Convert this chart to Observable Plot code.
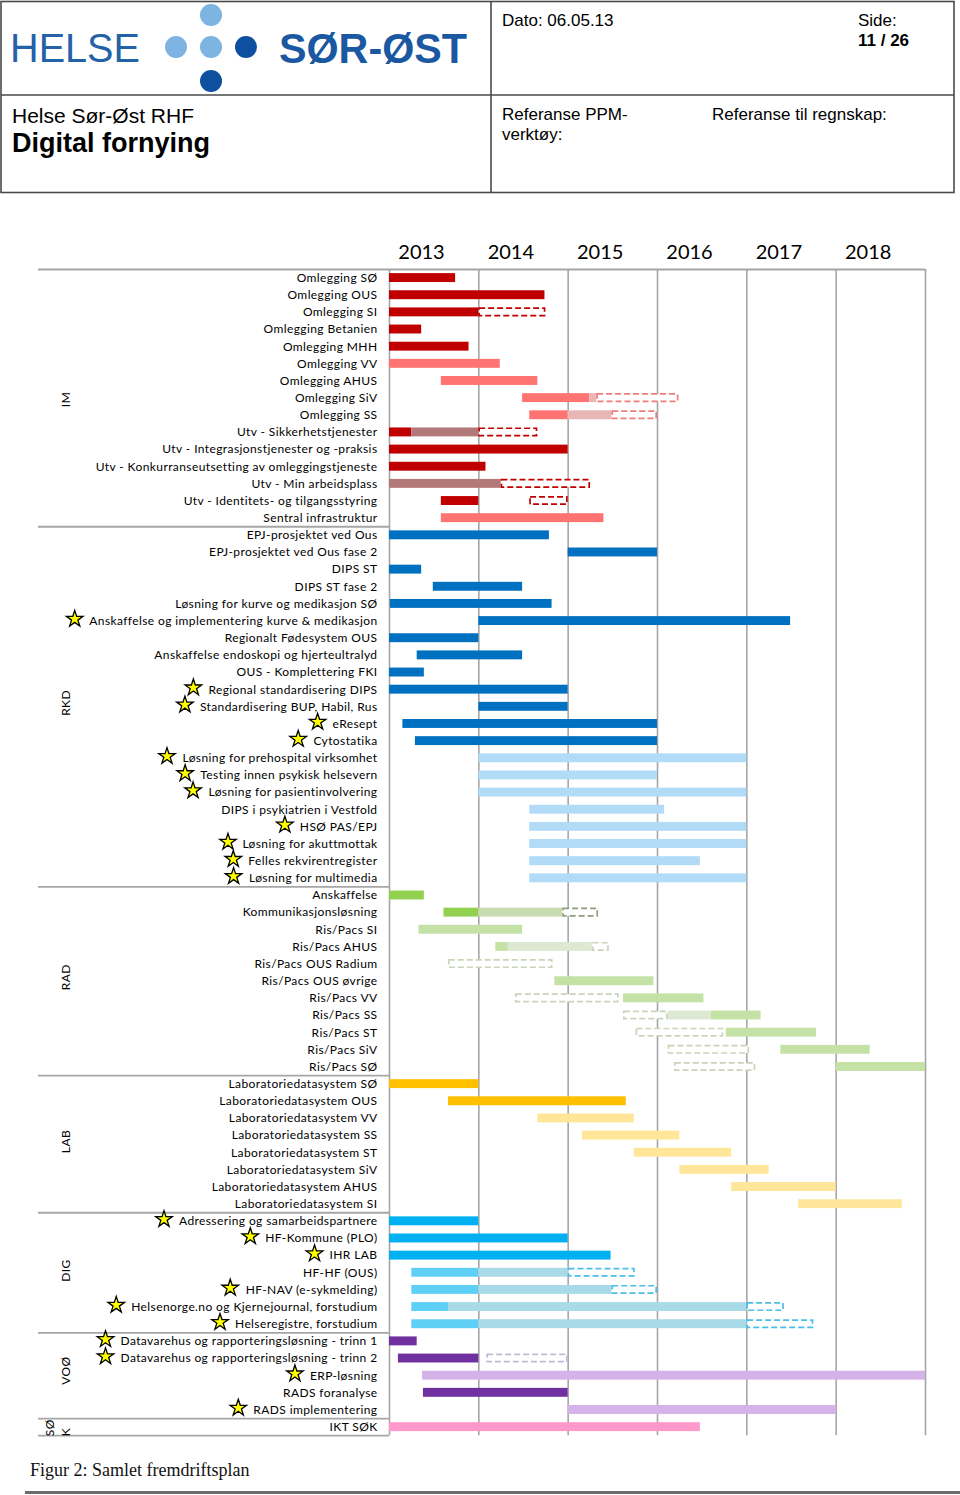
<!DOCTYPE html>
<html>
<head>
<meta charset="utf-8">
<script src="https://cdn.jsdelivr.net/npm/d3@7"></script>
<script src="https://cdn.jsdelivr.net/npm/@observablehq/plot@0.6"></script>
<style>
  html, body { margin: 0; padding: 0; background: #fff; }
  body { width: 960px; height: 1495px; position: relative; overflow: hidden; font-family: "Liberation Sans", Arial, sans-serif; }
  #hdr { position: absolute; left: 0; top: 0; }
  #chart { position: absolute; left: 0; top: 230px; }
  #chart g[aria-label="text"] text { letter-spacing: 0.4px; }
  #caption { position: absolute; left: 30px; top: 1460px; font-family: "Liberation Serif", "Times New Roman", serif; font-size: 18px; color: #111; white-space: nowrap; }
  #rule { position: absolute; left: 25px; top: 1491px; width: 935px; height: 3px; background: #6b6b6b; }
</style>
</head>
<body>
<svg id="hdr" width="960" height="196" font-family="Liberation Sans, Arial, sans-serif">
  <rect x="1" y="1.5" width="953" height="191" fill="none" stroke="#4a4a4a" stroke-width="1.6"/>
  <line x1="1" y1="95" x2="954" y2="95" stroke="#4a4a4a" stroke-width="1.6"/>
  <line x1="491" y1="1.5" x2="491" y2="192.5" stroke="#4a4a4a" stroke-width="1.6"/>
  <text x="10" y="62" font-size="41" fill="#2462a8" textLength="130" lengthAdjust="spacingAndGlyphs">HELSE</text>
  <circle cx="211" cy="15" r="11" fill="#7db4e2"/>
  <circle cx="176" cy="47" r="11" fill="#7db4e2"/>
  <circle cx="211" cy="47" r="11" fill="#7db4e2"/>
  <circle cx="246" cy="47" r="11" fill="#0e4fa0"/>
  <circle cx="211" cy="81" r="11" fill="#0e4fa0"/>
  <text x="279" y="63" font-size="42" font-weight="bold" fill="#1b58a2" textLength="188" lengthAdjust="spacingAndGlyphs">SØR-ØST</text>
  <text x="12" y="123" font-size="21" fill="#000">Helse Sør-Øst RHF</text>
  <text x="12" y="152" font-size="27" font-weight="bold" fill="#000">Digital fornying</text>
  <text x="502" y="26" font-size="17" fill="#000">Dato: 06.05.13</text>
  <text x="858" y="26" font-size="17" fill="#000">Side:</text>
  <text x="858" y="46" font-size="17" font-weight="bold" fill="#000">11 / 26</text>
  <text x="502" y="120" font-size="17" fill="#000">Referanse PPM-</text>
  <text x="502" y="140" font-size="17" fill="#000">verktøy:</text>
  <text x="712" y="120" font-size="17" fill="#000">Referanse til regnskap:</text>
</svg>
<div id="chart"></div>
<div id="caption">Figur 2: Samlet fremdriftsplan</div>
<div id="rule"></div>
<script>
// ---------- DATA ----------
const years = [2013, 2014, 2015, 2016, 2017, 2018];
const gridYears = [2013, 2014, 2015, 2016, 2017, 2018, 2019];
const groupNames = ["IM", "RKD", "RAD", "LAB", "DIG", "VOØ", "SØ\nK"];

const rowsIM = ["Omlegging SØ", "Omlegging OUS", "Omlegging SI", "Omlegging Betanien", "Omlegging MHH",
  "Omlegging VV", "Omlegging AHUS", "Omlegging SiV", "Omlegging SS", "Utv - Sikkerhetstjenester",
  "Utv - Integrasjonstjenester og -praksis", "Utv - Konkurranseutsetting av omleggingstjeneste",
  "Utv - Min arbeidsplass", "Utv - Identitets- og tilgangsstyring", "Sentral infrastruktur"];
const rowsRKD = ["EPJ-prosjektet ved Ous", "EPJ-prosjektet ved Ous fase 2", "DIPS ST", "DIPS ST fase 2",
  "Løsning for kurve og medikasjon SØ", "Anskaffelse og implementering kurve & medikasjon",
  "Regionalt Fødesystem OUS", "Anskaffelse endoskopi og hjerteultralyd", "OUS - Komplettering FKI",
  "Regional standardisering DIPS", "Standardisering BUP, Habil, Rus", "eResept", "Cytostatika",
  "Løsning for prehospital virksomhet", "Testing innen psykisk helsevern", "Løsning for pasientinvolvering",
  "DIPS i psykiatrien i Vestfold", "HSØ PAS/EPJ", "Løsning for akuttmottak", "Felles rekvirentregister",
  "Løsning for multimedia"];
const rowsRAD = ["Anskaffelse", "Kommunikasjonsløsning", "Ris/Pacs SI", "Ris/Pacs AHUS", "Ris/Pacs OUS Radium",
  "Ris/Pacs OUS øvrige", "Ris/Pacs VV", "Ris/Pacs SS", "Ris/Pacs ST", "Ris/Pacs SiV", "Ris/Pacs SØ"];
const rowsLAB = ["Laboratoriedatasystem SØ", "Laboratoriedatasystem OUS", "Laboratoriedatasystem VV",
  "Laboratoriedatasystem SS", "Laboratoriedatasystem ST", "Laboratoriedatasystem SiV",
  "Laboratoriedatasystem AHUS", "Laboratoriedatasystem SI"];
const rowsDIG = ["Adressering og samarbeidspartnere", "HF-Kommune (PLO)", "IHR LAB", "HF-HF (OUS)",
  "HF-NAV (e-sykmelding)", "Helsenorge.no og Kjernejournal, forstudium", "Helseregistre, forstudium"];
const rowsVOO = ["Datavarehus og rapporteringsløsning - trinn 1", "Datavarehus og rapporteringsløsning - trinn 2",
  "ERP-løsning", "RADS foranalyse", "RADS implementering"];
const rowsSOK = ["IKT SØK"];

const starred = ["Anskaffelse og implementering kurve & medikasjon", "Regional standardisering DIPS",
  "Standardisering BUP, Habil, Rus", "eResept", "Cytostatika", "Løsning for prehospital virksomhet",
  "Testing innen psykisk helsevern", "Løsning for pasientinvolvering", "HSØ PAS/EPJ", "Løsning for akuttmottak",
  "Felles rekvirentregister", "Løsning for multimedia", "Adressering og samarbeidspartnere", "HF-Kommune (PLO)",
  "IHR LAB", "HF-NAV (e-sykmelding)", "Helsenorge.no og Kjernejournal, forstudium", "Helseregistre, forstudium",
  "Datavarehus og rapporteringsløsning - trinn 1", "Datavarehus og rapporteringsløsning - trinn 2",
  "ERP-løsning", "RADS implementering"];

// [row, start, end, kind]  kind: solid | light | hatch | hatch2 | plan | plan2
const barsIM = [
  ["Omlegging SØ", 2013, 2013.74, "solid"],
  ["Omlegging OUS", 2013, 2014.74, "solid"],
  ["Omlegging SI", 2013, 2014, "solid"], ["Omlegging SI", 2014, 2014.75, "plan"],
  ["Omlegging Betanien", 2013, 2013.36, "solid"],
  ["Omlegging MHH", 2013, 2013.89, "solid"],
  ["Omlegging VV", 2013, 2014.24, "light"],
  ["Omlegging AHUS", 2013.58, 2014.66, "light"],
  ["Omlegging SiV", 2014.49, 2015.24, "light"], ["Omlegging SiV", 2015.24, 2015.32, "hatch2"], ["Omlegging SiV", 2015.32, 2016.24, "plan2"],
  ["Omlegging SS", 2014.57, 2015, "light"], ["Omlegging SS", 2015, 2015.49, "hatch2"], ["Omlegging SS", 2015.49, 2016, "plan2"],
  ["Utv - Sikkerhetstjenester", 2013, 2013.25, "solid"], ["Utv - Sikkerhetstjenester", 2013.25, 2014, "hatch"], ["Utv - Sikkerhetstjenester", 2014, 2014.66, "plan"],
  ["Utv - Integrasjonstjenester og -praksis", 2013, 2015, "solid"],
  ["Utv - Konkurranseutsetting av omleggingstjeneste", 2013, 2014.08, "solid"],
  ["Utv - Min arbeidsplass", 2013, 2014.25, "hatch"], ["Utv - Min arbeidsplass", 2014.25, 2015.25, "plan"],
  ["Utv - Identitets- og tilgangsstyring", 2013.58, 2014, "solid"], ["Utv - Identitets- og tilgangsstyring", 2014.57, 2015, "plan"],
  ["Sentral infrastruktur", 2013.58, 2015.4, "light"]
];
const barsRKD = [
  ["EPJ-prosjektet ved Ous", 2013, 2014.79, "solid"],
  ["EPJ-prosjektet ved Ous fase 2", 2015, 2016, "solid"],
  ["DIPS ST", 2013, 2013.36, "solid"],
  ["DIPS ST fase 2", 2013.49, 2014.49, "solid"],
  ["Løsning for kurve og medikasjon SØ", 2013.01, 2014.82, "solid"],
  ["Anskaffelse og implementering kurve & medikasjon", 2014, 2017.49, "solid"],
  ["Regionalt Fødesystem OUS", 2013, 2014, "solid"],
  ["Anskaffelse endoskopi og hjerteultralyd", 2013.31, 2014.49, "solid"],
  ["OUS - Komplettering FKI", 2013, 2013.39, "solid"],
  ["Regional standardisering DIPS", 2013, 2015, "solid"],
  ["Standardisering BUP, Habil, Rus", 2014, 2015, "solid"],
  ["eResept", 2013.15, 2016, "solid"],
  ["Cytostatika", 2013.29, 2016, "solid"],
  ["Løsning for prehospital virksomhet", 2014, 2017, "light"],
  ["Testing innen psykisk helsevern", 2014, 2016, "light"],
  ["Løsning for pasientinvolvering", 2014, 2017, "light"],
  ["DIPS i psykiatrien i Vestfold", 2014.57, 2016.08, "light"],
  ["HSØ PAS/EPJ", 2014.57, 2017, "light"],
  ["Løsning for akuttmottak", 2014.57, 2017, "light"],
  ["Felles rekvirentregister", 2014.57, 2016.48, "light"],
  ["Løsning for multimedia", 2014.57, 2017, "light"]
];
const barsRAD = [
  ["Anskaffelse", 2013, 2013.39, "solid"],
  ["Kommunikasjonsløsning", 2013.61, 2014, "solid"], ["Kommunikasjonsløsning", 2014, 2014.94, "hatch"], ["Kommunikasjonsløsning", 2014.94, 2015.34, "plan"],
  ["Ris/Pacs SI", 2013.33, 2014.49, "light"],
  ["Ris/Pacs AHUS", 2014.19, 2014.33, "light"], ["Ris/Pacs AHUS", 2014.33, 2015.27, "hatch2"], ["Ris/Pacs AHUS", 2015.27, 2015.46, "plan2"],
  ["Ris/Pacs OUS Radium", 2013.66, 2014.83, "plan2"],
  ["Ris/Pacs OUS øvrige", 2014.85, 2015.96, "light"],
  ["Ris/Pacs VV", 2014.41, 2015.57, "plan2"], ["Ris/Pacs VV", 2015.62, 2016.52, "light"],
  ["Ris/Pacs SS", 2015.62, 2016.12, "plan2"], ["Ris/Pacs SS", 2016.12, 2016.6, "hatch2"], ["Ris/Pacs SS", 2016.6, 2017.16, "light"],
  ["Ris/Pacs ST", 2015.76, 2016.74, "plan2"], ["Ris/Pacs ST", 2016.77, 2017.78, "light"],
  ["Ris/Pacs SiV", 2016.12, 2017.03, "plan2"], ["Ris/Pacs SiV", 2017.38, 2018.38, "light"],
  ["Ris/Pacs SØ", 2016.19, 2017.1, "plan2"], ["Ris/Pacs SØ", 2018, 2019, "light"]
];
const barsLAB = [
  ["Laboratoriedatasystem SØ", 2013, 2014, "solid"],
  ["Laboratoriedatasystem OUS", 2013.66, 2015.65, "solid"],
  ["Laboratoriedatasystem VV", 2014.66, 2015.74, "light"],
  ["Laboratoriedatasystem SS", 2015.16, 2016.25, "light"],
  ["Laboratoriedatasystem ST", 2015.74, 2016.83, "light"],
  ["Laboratoriedatasystem SiV", 2016.25, 2017.25, "light"],
  ["Laboratoriedatasystem AHUS", 2016.83, 2018, "light"],
  ["Laboratoriedatasystem SI", 2017.58, 2018.74, "light"]
];
const barsDIG = [
  ["Adressering og samarbeidspartnere", 2013, 2014, "solid"],
  ["HF-Kommune (PLO)", 2013, 2015, "solid"],
  ["IHR LAB", 2013, 2015.48, "solid"],
  ["HF-HF (OUS)", 2013.25, 2014, "light"], ["HF-HF (OUS)", 2014, 2015, "hatch"], ["HF-HF (OUS)", 2015, 2015.75, "plan"],
  ["HF-NAV (e-sykmelding)", 2013.25, 2014, "light"], ["HF-NAV (e-sykmelding)", 2014, 2015.49, "hatch"], ["HF-NAV (e-sykmelding)", 2015.49, 2016, "plan"],
  ["Helsenorge.no og Kjernejournal, forstudium", 2013.25, 2013.66, "light"], ["Helsenorge.no og Kjernejournal, forstudium", 2013.66, 2017, "hatch"], ["Helsenorge.no og Kjernejournal, forstudium", 2017, 2017.42, "plan"],
  ["Helseregistre, forstudium", 2013.25, 2014, "light"], ["Helseregistre, forstudium", 2014, 2017, "hatch"], ["Helseregistre, forstudium", 2017, 2017.75, "plan"]
];
const barsVOO = [
  ["Datavarehus og rapporteringsløsning - trinn 1", 2013, 2013.31, "solid"],
  ["Datavarehus og rapporteringsløsning - trinn 2", 2013.1, 2014, "solid"], ["Datavarehus og rapporteringsløsning - trinn 2", 2014.09, 2015, "plan2"],
  ["ERP-løsning", 2013.37, 2019, "light"],
  ["RADS foranalyse", 2013.38, 2015, "solid"],
  ["RADS implementering", 2015, 2018, "light"]
];
const barsSOK = [
  ["IKT SØK", 2013, 2016.48, "solid"]
];

const palettes = [
  {solid: "#c00000", light: "#ff7373", hatch: "#b37878", hatch2: "#e9b5b5", plan: "#c00000", plan2: "#ef7b7b"},
  {solid: "#0070c0", light: "#b2dbf8"},
  {solid: "#92d050", light: "#c5e2a6", hatch: "#c8dcb2", hatch2: "#dde9d2", plan: "#8f9f7a", plan2: "#c9d5ba"},
  {solid: "#ffc000", light: "#ffe699"},
  {solid: "#00b0f0", light: "#5ecff5", hatch: "#a9dae7", plan: "#4bbde6"},
  {solid: "#7030a0", light: "#d5b3e8", plan2: "#c6b7d5"},
  {solid: "#ff99cc"}
];

// ---------- BUILD ----------
const groupRows = [rowsIM, rowsRKD, rowsRAD, rowsLAB, rowsDIG, rowsVOO, rowsSOK];
const groupBars = [barsIM, barsRKD, barsRAD, barsLAB, barsDIG, barsVOO, barsSOK];
const rows = [];
const groups = [];
groupRows.forEach((list, g) => {
  const start = rows.length;
  list.forEach(label => rows.push({label, group: g, i: rows.length, star: starred.includes(label)}));
  groups.push({name: groupNames[g], start, end: rows.length});
});
const idx = new Map(rows.map(r => [r.label, r.i]));
const segs = groupBars.flatMap((list, g) => list.map(([label, start, end, kind]) =>
  ({row: idx.get(label), start, end, kind, color: palettes[g][kind]})));
const solidSegs = segs.filter(s => !s.kind.startsWith("plan"));
const planSegs = segs.filter(s => s.kind.startsWith("plan"));

const W = 960, ML = 389, MR = 35, MT = 39, rowH = 17.15, MB = 6;
const nRows = rows.length;
const H = Math.round(MT + nRows * rowH + MB);
const x0 = gridYears[0], x1 = gridYears[gridYears.length - 1];
const pxPerYear = (W - ML - MR) / (x1 - x0);
const pxToYear = px => x0 - px / pxPerYear;     // px = distance left of the frame
const lineLeft = pxToYear(ML - 38);

const labelFont = 12, spacing = 0.4;
const ctx = document.createElement("canvas").getContext("2d");
ctx.font = `${labelFont}px Lato`;
const measure = s => ctx.measureText(s).width + spacing * s.length;

const seps = [{y: 0, xa: lineLeft, xb: x1}]
  .concat(groups.slice(1).map(g => ({y: g.start, xa: lineLeft, xb: x0})))
  .concat([{y: nRows, xa: lineLeft, xb: x0}]);

const chart = Plot.plot({
  width: W,
  height: H,
  marginLeft: ML,
  marginRight: MR,
  marginTop: MT,
  marginBottom: H - MT - nRows * rowH,
  x: {domain: [x0, x1], range: [ML, W - MR]},
  y: {domain: [0, nRows], range: [MT, MT + nRows * rowH], axis: null},
  style: {fontFamily: "Lato, 'Open Sans', sans-serif", background: "white", overflow: "visible", color: "#000"},
  marks: [
    Plot.ruleX(gridYears, {x: d => d, y1: 0, y2: nRows, stroke: "#a6a6a6", strokeWidth: 1.6}),
    Plot.ruleY(seps, {y: "y", x1: "xa", x2: "xb", stroke: "#a6a6a6", strokeWidth: 1.8}),
    Plot.axisX(years, {anchor: "top", tickSize: 0, tickPadding: 11, fontSize: 20, dx: 32,
      tickFormat: d => String(d), label: null}),
    Plot.rect(solidSegs, {x1: "start", x2: "end", y1: d => d.row + 0.24, y2: d => d.row + 0.76, fill: "color"}),
    Plot.rect(planSegs, {x1: "start", x2: "end", y1: d => d.row + 0.24, y2: d => d.row + 0.76, fill: "white",
      stroke: "color", strokeWidth: 1.7, strokeDasharray: "6,3", inset: 0.8}),
    Plot.text(rows, {y: d => d.i + 0.5, text: "label", frameAnchor: "left", textAnchor: "end", dx: -12,
      fontSize: labelFont, fill: "#000"}),
    Plot.dot(rows.filter(r => r.star), {x: d => pxToYear(12 + measure(d.label) + 15), y: d => d.i + 0.5,
      dy: -2, symbol: "star", r: 5.2, fill: "#ffff00", stroke: "#000", strokeWidth: 1.3}),
    Plot.text(groups, {y: d => (d.start + d.end) / 2, text: "name", frameAnchor: "left", dx: -(ML - 69), dy: 9,
      rotate: -90, lineAnchor: "bottom", lineHeight: 1.3, fontSize: labelFont, fill: "#000"})
  ]
});
document.getElementById("chart").appendChild(chart);
</script>
</body>
</html>
